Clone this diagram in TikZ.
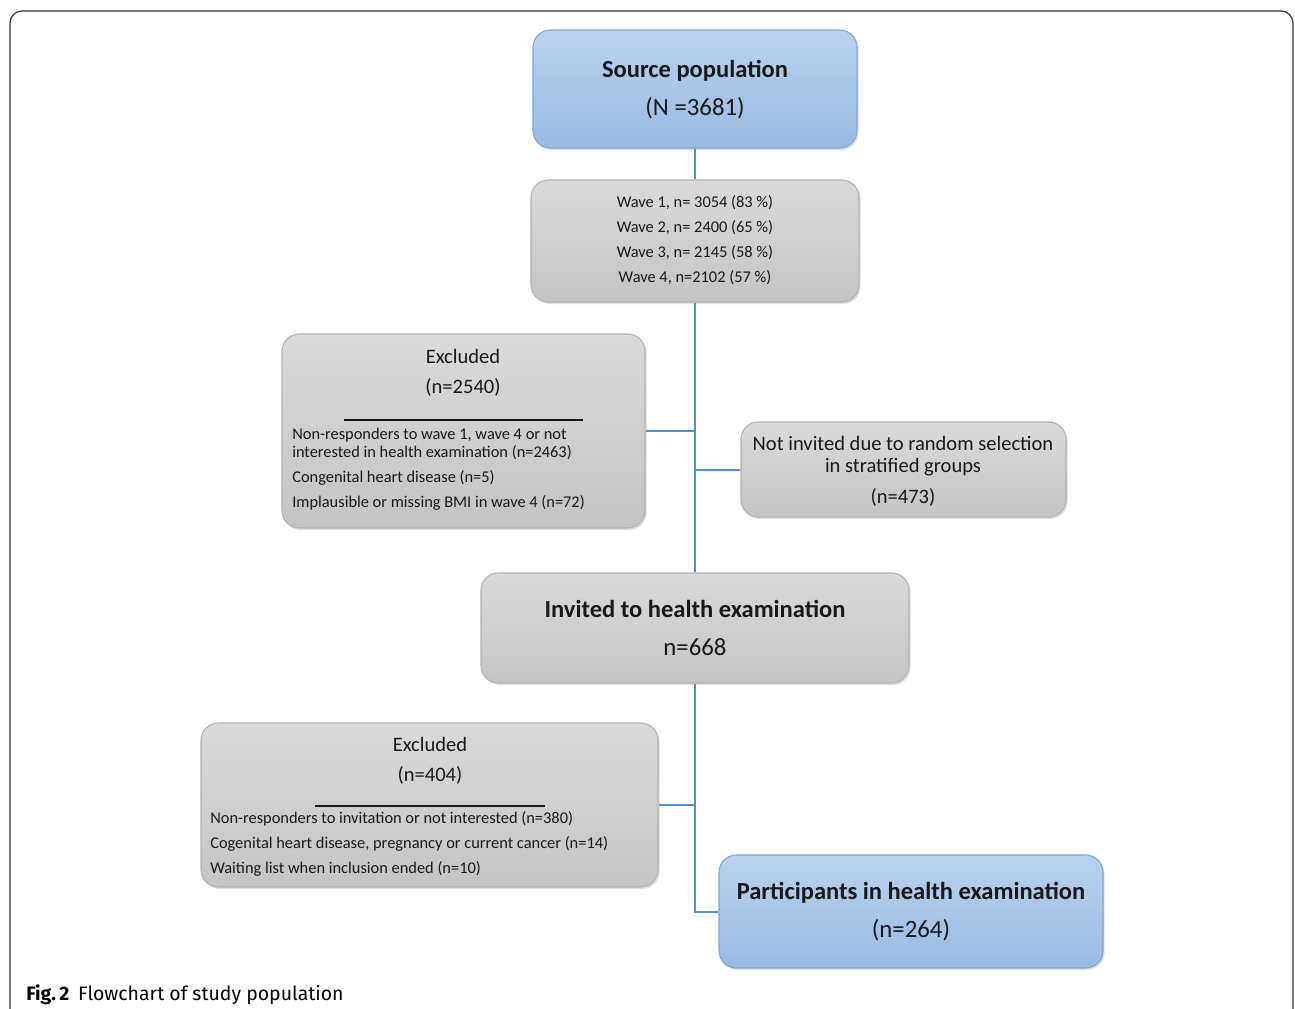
\documentclass[tikz,border=0pt]{standalone}
\usepackage{fontspec}
\setmainfont{Carlito}
\newfontfamily\capfont{Fira Sans}
\usetikzlibrary{fit,shadows}
\definecolor{bluetop}{RGB}{186,209,237}
\definecolor{bluebot}{RGB}{152,187,228}
\definecolor{blueedge}{RGB}{125,165,215}
\definecolor{graytop}{RGB}{218,218,218}
\definecolor{graybot}{RGB}{196,196,196}
\definecolor{grayedge}{RGB}{178,178,178}
\definecolor{conncol}{RGB}{80,145,210}
\definecolor{txt}{RGB}{25,25,25}
\begin{document}
\begin{tikzpicture}[x=0.75pt,y=-0.75pt,
  boxbase/.style={rounded corners=13pt, inner sep=0pt, line width=0.8pt,
     drop shadow={opacity=0.25, shadow xshift=1.2pt, shadow yshift=-1.5pt}},
  bluebox/.style={boxbase, draw=blueedge, top color=bluetop, bottom color=bluebot},
  graybox/.style={boxbase, draw=grayedge, top color=graytop, bottom color=graybot},
  conn/.style={draw=conncol, line width=1.5pt},
  ttl/.style={inner sep=0pt, text=txt, font=\fontsize{18.4}{21}\selectfont\bfseries},
  big/.style={inner sep=0pt, text=txt, font=\fontsize{18.6}{21}\selectfont},
  mid/.style={inner sep=0pt, text=txt, font=\fontsize{15.4}{18}\selectfont},
  sml/.style={inner sep=0pt, text=txt, font=\fontsize{12.3}{14}\selectfont},
  smlw/.style={sml, anchor=west},
  sep/.style={draw=txt, line width=0.8pt}
]
\useasboundingbox (0,0) rectangle (1295,1008);
% frame
\draw[line width=0.9pt, draw=black!80, rounded corners=9pt] (10,1020) -- (10,11) -- (1293,11) -- (1293,1020);

% boxes
\node[bluebox, fit={(533,30)(857,148)}] (src) {};
\node[graybox, fit={(531,180)(859,302)}] (wav) {};
\node[graybox, fit={(282,334)(645,528)}] (ex1) {};
\node[graybox, fit={(741,422)(1066,517)}] (ni) {};
\node[graybox, fit={(481,573)(909,683)}] (inv) {};
\node[graybox, fit={(201,723)(658,887)}] (ex2) {};
\node[bluebox, fit={(719,855)(1103,968)}] (par) {};

% connectors
\draw[conn] (src.south) -- (wav.north);
\draw[conn] (wav.south) -- (inv.north);
\draw[conn] (ex1.east) -- (ex1.east -| wav.south);
\draw[conn] (ni.west) -- (ni.west -| wav.south);
\draw[conn] (inv.south) |- (par.west);
\draw[conn] (ex2.east) -- (ex2.east -| inv.south);

% source
\node[ttl] (srct) at (695,71) {Source population};
\node[big] (srcn) at (695,108) {(N =3681)};
% waves
\node[sml] (w1) at (695,203) {Wave 1, n= 3054 (83 \%)};
\node[sml] (w2) at (695,228) {Wave 2, n= 2400 (65 \%)};
\node[sml] (w3) at (695,253) {Wave 3, n= 2145 (58 \%)};
\node[sml] (w4) at (695,278) {Wave 4, n=2102 (57 \%)};
% excluded 1
\node[mid] (e1t) at (463,356) {Excluded};
\node[mid] (e1n) at (463,387) {(n=2540)};
\draw[sep] (344,420) -- (583,420);
\node[smlw] (e1a) at (292,435) {Non-responders to wave 1, wave 4 or not};
\node[smlw] (e1b) at (292,453) {interested in health examination (n=2463)};
\node[smlw] (e1c) at (292,478) {Congenital heart disease (n=5)};
\node[smlw] (e1d) at (292,503) {Implausible or missing BMI in wave 4 (n=72)};
% not invited
\node[mid] (nia) at (903,443) {Not invited due to random selection};
\node[mid] (nib) at (903,467) {in stratified groups};
\node[mid] (nic) at (903,497) {(n=473)};
% invited
\node[ttl] (invt) at (695,609) {Invited to health examination};
\node[big] (invn) at (695,647) {n=668};
% excluded 2
\node[mid] (e2t) at (430,744) {Excluded};
\node[mid] (e2n) at (430,775) {(n=404)};
\draw[sep] (315,806) -- (545,806);
\node[smlw] (e2a) at (210,819) {Non-responders to invitation or not interested (n=380)};
\node[smlw] (e2b) at (210,844) {Cogenital heart disease, pregnancy or current cancer (n=14)};
\node[smlw] (e2c) at (210,869) {Waiting list when inclusion ended (n=10)};
% participants
\node[ttl] (part) at (911,893) {Participants in health examination};
\node[big] (parn) at (911,930) {(n=264)};
% caption
\node[anchor=base west, inner sep=0pt, font=\capfont\fontsize{14.6}{17}\selectfont] (cap) at (26,1000)
  {\textbf{Fig.\,2}\hspace{0.45em}{\fontseries{l}\selectfont Flowchart of study population}};
\end{tikzpicture}
\end{document}
